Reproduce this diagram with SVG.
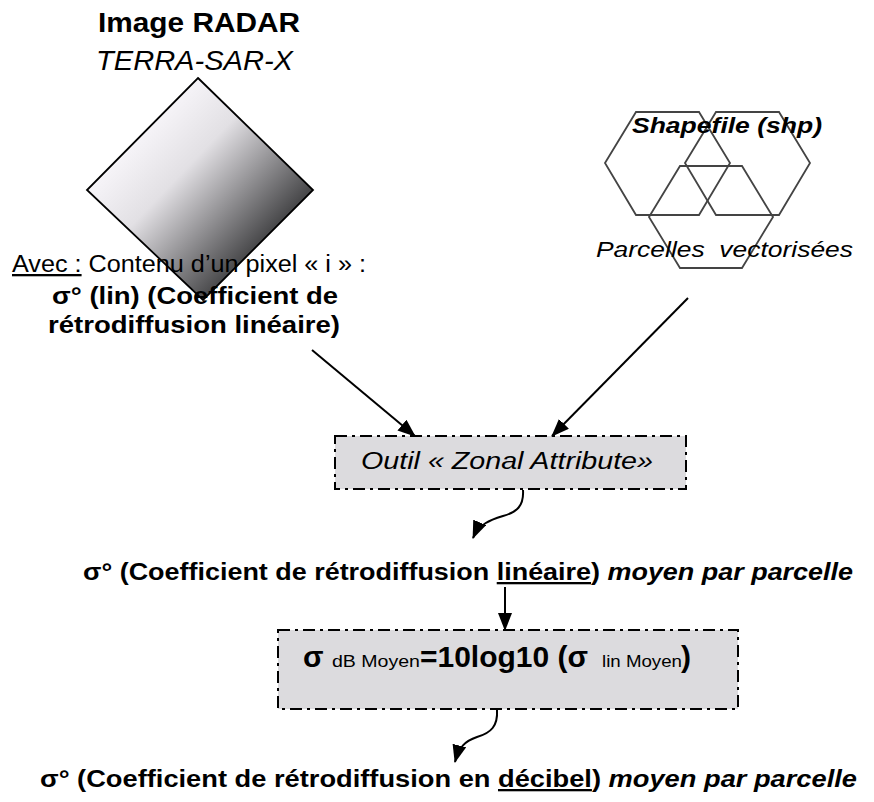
<svg xmlns="http://www.w3.org/2000/svg" width="874" height="802" viewBox="0 0 874 802">
<style>
text{font-family:"Liberation Sans",Arial,sans-serif;fill:#000}
.b{font-weight:bold}
.i{font-style:italic}
.conn{stroke:#000;stroke-width:2;fill:none}
.box{fill:#dcdbde;stroke:#000;stroke-width:2;stroke-dasharray:12 5 3 5}
.hex{fill:none;stroke:#444;stroke-width:1.8}
</style>
<defs>
<linearGradient id="g" gradientUnits="userSpaceOnUse" x1="142" y1="134" x2="257" y2="244">
<stop offset="0" stop-color="#f6f4f8"/>
<stop offset="0.35" stop-color="#e2e0e4"/>
<stop offset="1" stop-color="#4a4a4c"/>
</linearGradient>
<marker id="ah" markerUnits="userSpaceOnUse" viewBox="0 0 18 14" markerWidth="18" markerHeight="14" refX="17" refY="7" orient="auto">
<path d="M0,0 L18,7 L0,14 z" fill="#000"/>
</marker>
</defs>

<g id="radar">
<polygon points="198,78 313,190 203,300 87,190" fill="url(#g)" stroke="#000" stroke-width="1.8"/>
<text x="98" y="32" class="b" font-size="27" textLength="202" lengthAdjust="spacingAndGlyphs">Image RADAR</text>
<text x="96" y="70" class="i" font-size="27" textLength="197" lengthAdjust="spacingAndGlyphs">TERRA-SAR-X</text>
<text x="12" y="272" font-size="23" textLength="354" lengthAdjust="spacingAndGlyphs"><tspan text-decoration="underline">Avec :</tspan> Contenu d’un pixel « i » :</text>
<text x="52" y="304" class="b" font-size="23" textLength="286" lengthAdjust="spacingAndGlyphs">σ° (lin) (Coefficient de</text>
<text x="48" y="333" class="b" font-size="23" textLength="292" lengthAdjust="spacingAndGlyphs">rétrodiffusion linéaire)</text>
</g>

<g id="shapefile">
<polygon class="hex" points="605,163 636,112 699,112 730,163 699,215 636,215"/>
<polygon class="hex" points="685,163 716,112 779,112 810,163 779,215 716,215"/>
<polygon class="hex" points="649,217 680,166 742,166 773,217 742,268 680,268"/>
<text x="632" y="133" class="b i" font-size="22" textLength="190" lengthAdjust="spacingAndGlyphs">Shapefile (shp)</text>
<text x="596" y="257" class="i" font-size="22" textLength="257" lengthAdjust="spacingAndGlyphs" style="white-space:pre">Parcelles  vectorisées</text>
</g>

<g id="zonal">
<rect class="box" x="335" y="436" width="351" height="53"/>
<text x="361" y="469" class="i" font-size="23" textLength="292" lengthAdjust="spacingAndGlyphs">Outil « Zonal Attribute»</text>
</g>

<g id="lin-moyen">
<text x="83" y="580" class="b" font-size="23" textLength="770" lengthAdjust="spacingAndGlyphs">σ° (Coefficient de rétrodiffusion <tspan text-decoration="underline">linéaire</tspan>) <tspan class="i">moyen par parcelle</tspan></text>
</g>

<g id="formule">
<rect class="box" x="278" y="630" width="460" height="79"/>
<text y="667" class="b" font-size="30"><tspan x="303">σ</tspan><tspan x="332" font-size="16" font-weight="normal" textLength="88" lengthAdjust="spacingAndGlyphs">dB Moyen</tspan><tspan x="420" textLength="168" lengthAdjust="spacingAndGlyphs">=10log10 (σ</tspan><tspan x="602" font-size="16" font-weight="normal" textLength="80" lengthAdjust="spacingAndGlyphs">lin Moyen</tspan><tspan x="681">)</tspan></text>
</g>

<g id="db-moyen">
<text x="40" y="787" class="b" font-size="23" textLength="817" lengthAdjust="spacingAndGlyphs">σ° (Coefficient de rétrodiffusion en <tspan text-decoration="underline">décibel</tspan>) <tspan class="i">moyen par parcelle</tspan></text>
</g>

<g id="connectors">
<line class="conn" x1="312" y1="350" x2="415" y2="436" marker-end="url(#ah)"/>
<line class="conn" x1="688" y1="298" x2="552" y2="436" marker-end="url(#ah)"/>
<path class="conn" d="M523,490 C524,506 517,512 503,516 C490,520 479,524 473,538" marker-end="url(#ah)"/>
<line class="conn" x1="505" y1="587" x2="505" y2="630" marker-end="url(#ah)"/>
<path class="conn" d="M497,710 C498,726 491,733 477,737 C465,741 459,747 455,762" marker-end="url(#ah)"/>
</g>
</svg>
